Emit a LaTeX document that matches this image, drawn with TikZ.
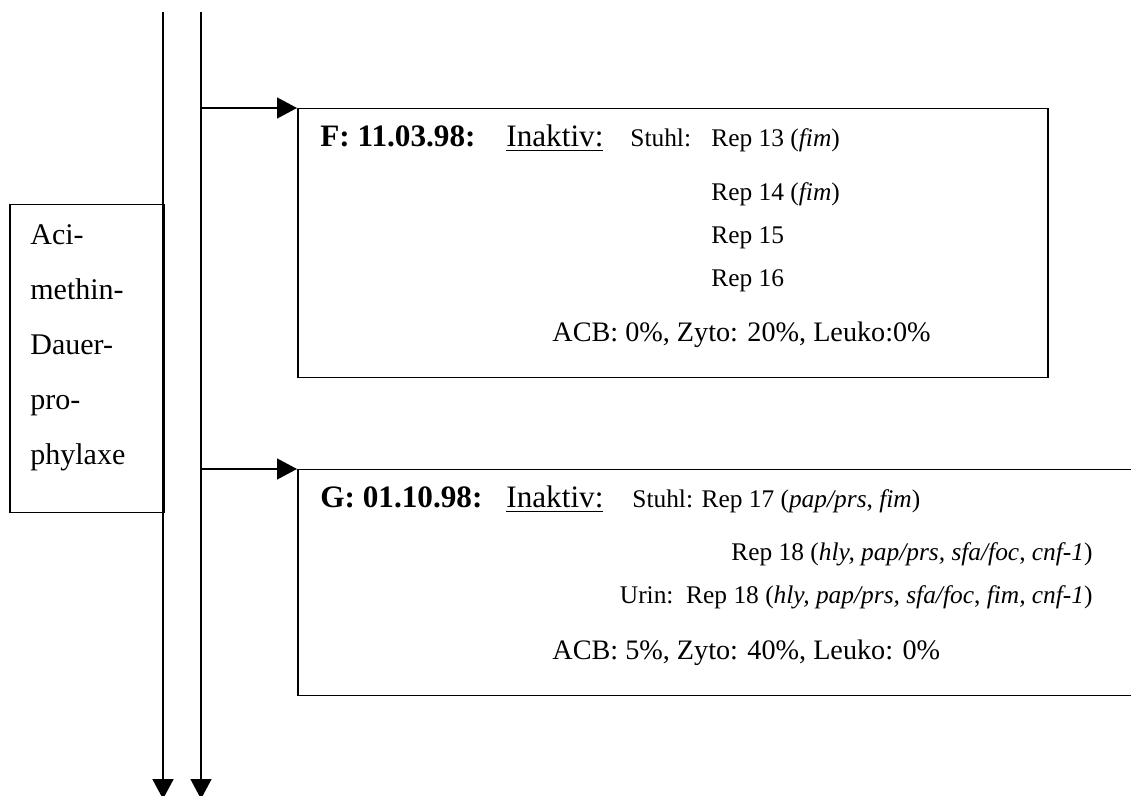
\documentclass[tikz,border=0pt]{standalone}
\usepackage{fontspec}
\setmainfont{Liberation Serif}
\usetikzlibrary{arrows.meta}
\begin{document}
\begin{tikzpicture}[x=0.5pt,y=-0.5pt,
  box/.style={draw, line width=0.75pt, inner sep=0pt, anchor=north west},
  flow/.style={line width=0.7pt, -{Triangle[length=10pt,width=10.5pt]}},
  big/.style={inner sep=0pt, anchor=base west, font=\fontsize{14.1}{17}\selectfont},
  head/.style={inner sep=0pt, anchor=base west, font=\fontsize{15.6}{18}\selectfont},
  headbold/.style={head, font=\fontsize{15.6}{18}\selectfont\bfseries},
  small/.style={inner sep=0pt, anchor=base west, font=\fontsize{12.7}{15}\selectfont},
  side/.style={inner sep=0pt, anchor=base west, font=\fontsize{15}{18}\selectfont},
]
\useasboundingbox (0,0) rectangle (1131,796);
\clip (0,0) rectangle (1131,796);

% boxes
\node[box, minimum width=77pt, minimum height=154pt] (boxA) at (9,204) {};
\node[box, minimum width=375pt, minimum height=134.5pt] (boxF) at (297,108) {};
\node[box, minimum width=430pt, minimum height=113pt] (boxG) at (297,469) {};

% two time lines
\coordinate (topA) at (163,12);
\coordinate (endA) at (163,799);
\coordinate (topB) at (201,12);
\coordinate (endB) at (201,799);
\draw[flow, line width=1pt] (topA) -- (endA);
\draw[flow] (topB) -- (endB);

% branches to the findings
\coordinate (jF) at (201,108);
\coordinate (jG) at (201,469);
\draw[flow] (jF) -- (boxF.north west);
\draw[flow] (jG) -- (boxG.north west);

% side label
\node[side] (a1) at (30,245) {Aci-};
\node[side] (a2) at (30,300) {methin-};
\node[side] (a3) at (30,355) {Dauer-};
\node[side] (a4) at (30,410) {pro-};
\node[side] (a5) at (30,465) {phylaxe};

% finding F
\node[headbold] (dateF) at (320,147) {F: 11.03.98:};
\node[head] (statF) at (506,147) {\underline{Inaktiv:}};
\node[small] (srcF) at (630,147) {Stuhl:};
\node[small] (rF1) at (711,147) {Rep 13 (\textit{fim})};
\node[small] (rF2) at (711,201) {Rep 14 (\textit{fim})};
\node[small] (rF3) at (711,244) {Rep 15};
\node[small] (rF4) at (711,287) {Rep 16};
\node[big] (valF) at (552,342) {ACB: 0\%, Zyto: 20\%, Leuko:0\%};

% finding G
\node[headbold] (dateG) at (320,508) {G: 01.10.98:};
\node[head] (statG) at (506,508) {\underline{Inaktiv:}};
\node[small] (rG1) at (632,508) {Stuhl: Rep 17 (\textit{pap/prs}, \textit{fim})};
\node[small, anchor=base east] (rG2) at (1093,561) {Rep 18 (\textit{hly, pap/prs, sfa/foc}, \textit{cnf-1})};
\node[small, anchor=base east] (rG3) at (1093,604) {Urin:\ \ Rep 18 (\textit{hly, pap/prs, sfa/foc}, \textit{fim, cnf-1})};
\node[big] (valG) at (552,660) {ACB: 5\%, Zyto: 40\%, Leuko: 0\%};
\end{tikzpicture}
\end{document}
